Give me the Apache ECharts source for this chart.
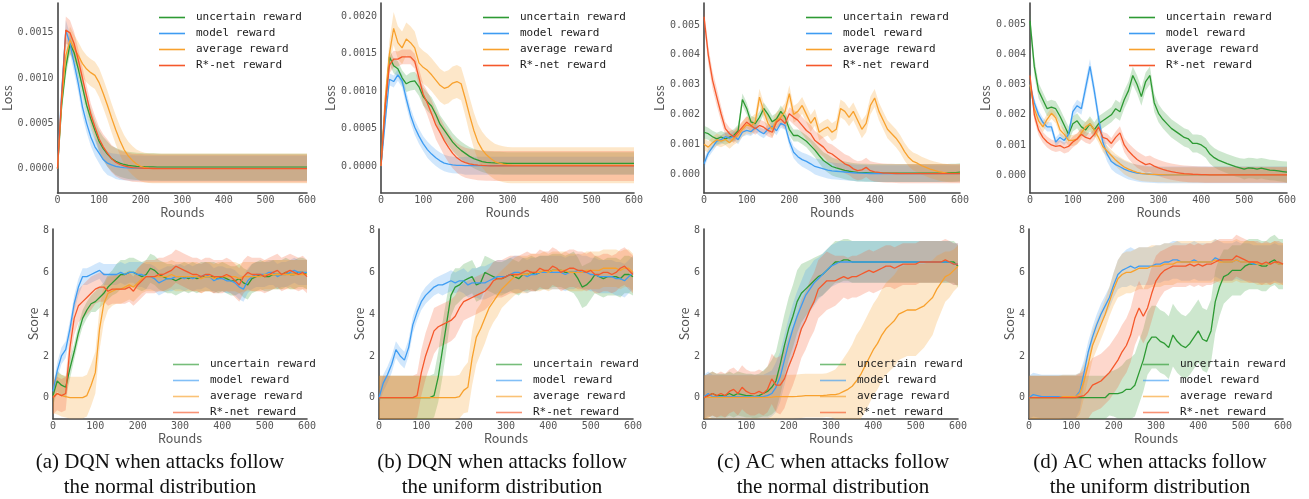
<!DOCTYPE html>
<html>
<head>
<meta charset="utf-8">
<title>Loss and score curves</title>
<script src="https://cdn.jsdelivr.net/npm/echarts@6/dist/echarts.min.js"></script>
<style>
  html, body { margin: 0; padding: 0; background: #fff; }
  #chart { width: 1309px; height: 499px; }
</style>
</head>
<body>
<div id="chart"></div>
<script>
// x positions of every sample (training rounds)
const rounds = [
  0, 10, 20, 30, 40, 50, 60, 70, 80, 90,
  100, 110, 120, 130, 140, 150, 160, 170, 180, 190,
  200, 210, 220, 230, 240, 250, 260, 270, 280, 290,
  300, 310, 320, 330, 340, 350, 360, 370, 380, 390,
  400, 410, 420, 430, 440, 450, 460, 470, 480, 490,
  500, 510, 520, 530, 540, 550, 560, 570, 580, 590,
  600
]
const seriesNames = ['uncertain reward', 'model reward', 'average reward', 'R*-net reward']
const captions = [
  '(a) DQN when attacks follow\nthe normal distribution',
  '(b) DQN when attacks follow\nthe uniform distribution',
  '(c) AC when attacks follow\nthe normal distribution',
  '(d) AC when attacks follow\nthe uniform distribution',
]
const roundTicks = [0, 100, 200, 300, 400, 500, 600]
const lossTicksA = [0, 0.0005, 0.001, 0.0015]
const lossTicksB = [0, 0.0005, 0.001, 0.0015, 0.002]
const lossTicksC = [0, 0.001, 0.002, 0.003, 0.004, 0.005]
const scoreTicks = [0, 2, 4, 6, 8]

// loss values are written in units of 1e-4
const LOSS_UNIT = 1e-4

// ---- (a) DQN, normal: loss ----
const lossA_unc = [
  0, 7, 11.2, 13.8, 12.8, 11, 9, 7, 5.5, 4.2,
  3, 2.2, 1.6, 1.1, 0.8, 0.6, 0.45, 0.35, 0.3, 0.25,
  0.22, 0.2, 0.19, 0.18, 0.17, 0.15, 0.15, 0.15, 0.15, 0.15,
  0.15, 0.15, 0.15, 0.15, 0.15, 0.15, 0.15, 0.15, 0.15, 0.15,
  0.15, 0.15, 0.15, 0.15, 0.15, 0.15, 0.15, 0.15, 0.15, 0.15,
  0.15, 0.15, 0.15, 0.15, 0.15, 0.15, 0.15, 0.15, 0.15, 0.15,
  0.15]
const lossA_unc_sd = [
  0.3, 0.8, 1.0, 1.1, 1.1, 1.1, 1.1, 1.1, 1.1, 1.1,
  1.2, 1.3, 1.4, 1.4, 1.5, 1.5, 1.5, 1.5, 1.5, 1.5,
  1.5, 1.5, 1.5, 1.5, 1.5, 1.5, 1.5, 1.5, 1.5, 1.5,
  1.5, 1.5, 1.5, 1.5, 1.5, 1.5, 1.5, 1.5, 1.5, 1.5,
  1.5, 1.5, 1.5, 1.5, 1.5, 1.5, 1.5, 1.5, 1.5, 1.5,
  1.5, 1.5, 1.5, 1.5, 1.5, 1.5, 1.5, 1.5, 1.5, 1.5,
  1.5]
const lossA_mod = [
  0, 8.5, 15.3, 13.8, 11.6, 9.4, 6.8, 5.0, 3.5, 2.4,
  1.7, 1.0, 0.6, 0.4, 0.25, 0.15, 0.1, 0.08, 0.06, 0.05,
  0.04, 0.03, 0.02, 0.02, 0.02, 0.02, 0.02, 0.02, 0.02, 0.02,
  0.02, 0.02, 0.02, 0.02, 0.02, 0.02, 0.02, 0.02, 0.02, 0.02,
  0.02, 0.02, 0.02, 0.02, 0.02, 0.02, 0.02, 0.02, 0.02, 0.02,
  0.02, 0.02, 0.02, 0.02, 0.02, 0.02, 0.02, 0.02, 0.02, 0.02,
  0.02]
const lossA_mod_sd = [
  0.3, 0.8, 1.1, 1.1, 1.0, 1.0, 1.0, 1.0, 1.0, 1.0,
  1.1, 1.2, 1.3, 1.3, 1.4, 1.4, 1.4, 1.4, 1.4, 1.4,
  1.4, 1.4, 1.4, 1.4, 1.4, 1.4, 1.4, 1.4, 1.4, 1.4,
  1.4, 1.4, 1.4, 1.4, 1.4, 1.4, 1.4, 1.4, 1.4, 1.4,
  1.4, 1.4, 1.4, 1.4, 1.4, 1.4, 1.4, 1.4, 1.4, 1.4,
  1.4, 1.4, 1.4, 1.4, 1.4, 1.4, 1.4, 1.4, 1.4, 1.4,
  1.4]
const lossA_avg = [
  0, 7.5, 12.5, 14.2, 13.3, 12.5, 11.6, 11, 10.6, 10.3,
  9.5, 8.3, 7, 5.6, 4.3, 3.1, 2.1, 1.4, 0.9, 0.5,
  0.25, 0.1, 0.05, 0.03, 0.02, 0.02, 0.02, 0.02, 0.02, 0.02,
  0.02, 0.02, 0.02, 0.02, 0.02, 0.02, 0.02, 0.02, 0.02, 0.02,
  0.02, 0.02, 0.02, 0.02, 0.02, 0.02, 0.02, 0.02, 0.02, 0.02,
  0.02, 0.02, 0.02, 0.02, 0.02, 0.02, 0.02, 0.02, 0.02, 0.02,
  0.02]
const lossA_avg_sd = [
  0.3, 1.0, 1.3, 1.5, 1.5, 1.5, 1.5, 1.5, 1.5, 1.5,
  1.6, 1.6, 1.6, 1.6, 1.6, 1.6, 1.6, 1.6, 1.6, 1.6,
  1.65, 1.65, 1.65, 1.65, 1.65, 1.65, 1.65, 1.65, 1.65, 1.65,
  1.65, 1.65, 1.65, 1.65, 1.65, 1.65, 1.65, 1.65, 1.65, 1.65,
  1.65, 1.65, 1.65, 1.65, 1.65, 1.65, 1.65, 1.65, 1.65, 1.65,
  1.65, 1.65, 1.65, 1.65, 1.65, 1.65, 1.65, 1.65, 1.65, 1.65,
  1.65]
const lossA_rnet = [
  0, 8, 15.3, 15.0, 13.8, 12, 10, 8, 6, 4.6,
  3.3, 2.4, 1.7, 1.1, 0.7, 0.45, 0.3, 0.2, 0.1, 0.07,
  0.05, 0.03, 0.02, 0.01, 0, 0, 0, 0, 0, 0,
  0, 0, 0, 0, 0, 0, 0, 0, 0, 0,
  0, 0, 0, 0, 0, 0, 0, 0, 0, 0,
  0, 0, 0, 0, 0, 0, 0, 0, 0, 0,
  0]
const lossA_rnet_sd = [
  0.3, 1.0, 1.5, 1.4, 1.3, 1.2, 1.2, 1.2, 1.2, 1.2,
  1.3, 1.4, 1.5, 1.5, 1.55, 1.55, 1.55, 1.55, 1.55, 1.55,
  1.55, 1.55, 1.55, 1.55, 1.55, 1.55, 1.55, 1.55, 1.55, 1.55,
  1.55, 1.55, 1.55, 1.55, 1.55, 1.55, 1.55, 1.55, 1.55, 1.55,
  1.55, 1.55, 1.55, 1.55, 1.55, 1.55, 1.55, 1.55, 1.55, 1.55,
  1.55, 1.55, 1.55, 1.55, 1.55, 1.55, 1.55, 1.55, 1.55, 1.55,
  1.55]

// ---- (b) DQN, uniform: loss ----
const lossB_unc = [
  0, 8, 14.6, 13.4, 13, 11.8, 11, 11.3, 11.4, 10.6,
  9.3, 8.6, 8, 6.9, 5.6, 4.8, 4, 3.2, 2.6, 2.1,
  1.7, 1.3, 1.0, 0.8, 0.6, 0.5, 0.45, 0.42, 0.4, 0.38,
  0.36, 0.36, 0.36, 0.36, 0.36, 0.36, 0.36, 0.36, 0.36, 0.36,
  0.36, 0.36, 0.36, 0.36, 0.36, 0.36, 0.36, 0.36, 0.36, 0.36,
  0.36, 0.36, 0.36, 0.36, 0.36, 0.36, 0.36, 0.36, 0.36, 0.36,
  0.36]
const lossB_unc_sd = [
  0.3, 0.8, 1.0, 1.0, 1.0, 1.0, 1.1, 1.2, 1.2, 1.2,
  1.2, 1.2, 1.2, 1.2, 1.2, 1.2, 1.2, 1.2, 1.2, 1.2,
  1.2, 1.25, 1.3, 1.35, 1.4, 1.45, 1.5, 1.5, 1.5, 1.5,
  1.5, 1.5, 1.5, 1.5, 1.5, 1.5, 1.5, 1.5, 1.5, 1.5,
  1.5, 1.5, 1.5, 1.5, 1.5, 1.5, 1.5, 1.5, 1.5, 1.5,
  1.5, 1.5, 1.5, 1.5, 1.5, 1.5, 1.5, 1.5, 1.5, 1.5,
  1.5]
const lossB_mod = [
  0, 6, 11.6, 11.3, 12.2, 11.4, 9.0, 6.8, 5.2, 4.0,
  3.0, 2.2, 1.6, 1.1, 0.7, 0.4, 0.25, 0.15, 0.1, 0.08,
  0.05, 0.05, 0.05, 0.05, 0.05, 0.05, 0.05, 0.05, 0.05, 0.05,
  0.05, 0.05, 0.05, 0.05, 0.05, 0.05, 0.05, 0.05, 0.05, 0.05,
  0.05, 0.05, 0.05, 0.05, 0.05, 0.05, 0.05, 0.05, 0.05, 0.05,
  0.05, 0.05, 0.05, 0.05, 0.05, 0.05, 0.05, 0.05, 0.05, 0.05,
  0.05]
const lossB_mod_sd = [
  0.3, 0.8, 0.8, 0.8, 0.8, 0.9, 1.0, 1.0, 1.0, 1.0,
  1.0, 1.1, 1.1, 1.1, 1.1, 1.1, 1.1, 1.1, 1.1, 1.1,
  1.2, 1.2, 1.2, 1.2, 1.2, 1.2, 1.2, 1.2, 1.2, 1.2,
  1.2, 1.2, 1.2, 1.2, 1.2, 1.2, 1.2, 1.2, 1.2, 1.2,
  1.2, 1.2, 1.2, 1.2, 1.2, 1.2, 1.2, 1.2, 1.2, 1.2,
  1.2, 1.2, 1.2, 1.2, 1.2, 1.2, 1.2, 1.2, 1.2, 1.2,
  1.2]
const lossB_avg = [
  0, 9, 15, 18.4, 16.5, 15.8, 17, 16.5, 15.8, 13.8,
  13.2, 12.8, 12.2, 11.5, 10.8, 10.4, 10.6, 11.1, 11.3, 11.0,
  9.0, 6.8, 4.8, 3.2, 2.2, 1.5, 1.0, 0.6, 0.4, 0.25,
  0.15, 0.12, 0.1, 0.1, 0.1, 0.1, 0.1, 0.1, 0.1, 0.1,
  0.1, 0.1, 0.1, 0.1, 0.1, 0.1, 0.1, 0.1, 0.1, 0.1,
  0.1, 0.1, 0.1, 0.1, 0.1, 0.1, 0.1, 0.1, 0.1, 0.1,
  0.1]
const lossB_avg_sd = [
  0.3, 1.2, 1.8, 2.2, 2.2, 2.2, 2.2, 2.2, 2.2, 2.2,
  2.2, 2.2, 2.2, 2.2, 2.2, 2.2, 2.2, 2.2, 2.2, 2.2,
  2.3, 2.4, 2.4, 2.4, 2.4, 2.4, 2.4, 2.4, 2.4, 2.4,
  2.4, 2.4, 2.4, 2.4, 2.4, 2.4, 2.4, 2.4, 2.4, 2.4,
  2.4, 2.4, 2.4, 2.4, 2.4, 2.4, 2.4, 2.4, 2.4, 2.4,
  2.4, 2.4, 2.4, 2.4, 2.4, 2.4, 2.4, 2.4, 2.4, 2.4,
  2.4]
const lossB_rnet = [
  0, 8, 13.5, 14.3, 14.3, 14.6, 14.6, 14.6, 14.0, 11.8,
  9.6, 8.4, 7.0, 5.5, 4.5, 3.4, 2.5, 1.7, 1.1, 0.7,
  0.45, 0.3, 0.2, 0.12, 0.08, 0.05, 0.03, 0.02, 0.02, 0.02,
  0.02, 0.02, 0.02, 0.02, 0.02, 0.02, 0.02, 0.02, 0.02, 0.02,
  0.02, 0.02, 0.02, 0.02, 0.02, 0.02, 0.02, 0.02, 0.02, 0.02,
  0.02, 0.02, 0.02, 0.02, 0.02, 0.02, 0.02, 0.02, 0.02, 0.02,
  0.02]
const lossB_rnet_sd = [
  0.3, 1.0, 1.1, 1.1, 1.0, 1.0, 1.0, 1.0, 1.0, 1.2,
  1.4, 1.6, 1.8, 1.9, 2.0, 2.0, 2.0, 2.0, 2.0, 2.0,
  2.0, 2.0, 2.0, 2.0, 2.0, 2.0, 2.0, 2.0, 2.0, 2.0,
  2.0, 2.0, 2.0, 2.0, 2.0, 2.0, 2.0, 2.0, 2.0, 2.0,
  2.0, 2.0, 2.0, 2.0, 2.0, 2.0, 2.0, 2.0, 2.0, 2.0,
  2.0, 2.0, 2.0, 2.0, 2.0, 2.0, 2.0, 2.0, 2.0, 2.0,
  2.0]

// ---- (c) AC, normal: loss ----
const lossC_unc = [
  14, 13.5, 12.5, 11.8, 12.4, 11.8, 12.4, 13, 14.5, 25,
  22, 17.5, 16.9, 19, 22, 20, 17.5, 18.5, 21, 19,
  15, 12.9, 12.9, 12, 11, 9.5, 8, 6.2, 4.5, 3.5,
  2.5, 2.0, 1.6, 1.2, 0.9, 0.7, 0.5, 0.45, 0.4, 0.35,
  0.3, 0.3, 0.3, 0.3, 0.3, 0.3, 0.3, 0.3, 0.3, 0.3,
  0.3, 0.3, 0.3, 0.3, 0.3, 0.3, 0.35, 0.35, 0.4, 0.45,
  0.6]
const lossC_unc_sd = [
  2.2, 2.0, 2.0, 2.0, 2.0, 2.0, 2.0, 2.0, 2.0, 2.0,
  2.0, 2.0, 2.0, 2.0, 2.0, 2.0, 2.0, 2.0, 2.0, 2.0,
  2.0, 2.0, 2.0, 2.0, 2.0, 2.2, 2.4, 2.6, 2.8, 3.0,
  3.0, 3.0, 3.0, 3.0, 3.0, 3.0, 3.0, 3.0, 3.0, 3.0,
  3.0, 3.0, 3.0, 3.0, 3.0, 3.0, 3.0, 3.0, 3.0, 3.0,
  3.0, 3.0, 3.0, 3.0, 3.0, 3.0, 3.0, 3.0, 3.0, 3.0,
  3.0]
const lossC_mod = [
  3.4, 7, 9, 11, 11.5, 12.5, 12, 12.8, 11.5, 14,
  14.6, 14.2, 15.5, 14.3, 13.5, 15, 16, 14.5, 17, 16.3,
  11, 7.3, 5.8, 4.8, 4.2, 3.4, 2.5, 2.1, 1.7, 1.3,
  1.0, 0.9, 0.8, 0.65, 0.5, 0.4, 0.3, 0.25, 0.2, 0.15,
  0.1, 0.1, 0.1, 0.1, 0.1, 0.1, 0.1, 0.1, 0.1, 0.1,
  0.1, 0.1, 0.1, 0.1, 0.1, 0.1, 0.1, 0.1, 0.1, 0.1,
  0.1]
const lossC_mod_sd = [
  1.5, 1.5, 1.5, 1.5, 1.5, 1.5, 1.5, 1.5, 1.5, 1.5,
  1.5, 1.5, 1.5, 1.5, 1.5, 1.5, 1.5, 1.5, 1.5, 1.5,
  1.8, 2.0, 2.2, 2.4, 2.5, 2.6, 2.7, 2.8, 2.8, 2.8,
  2.8, 2.8, 2.8, 2.8, 2.8, 2.8, 2.8, 2.8, 2.8, 2.8,
  2.8, 2.8, 2.8, 2.8, 2.8, 2.8, 2.8, 2.8, 2.8, 2.8,
  2.8, 2.8, 2.8, 2.8, 2.8, 2.8, 2.8, 2.8, 2.8, 2.8,
  2.8]
const lossC_avg = [
  10, 9, 10.5, 11.5, 11, 11.6, 10.5, 12, 13, 15,
  16.5, 16, 17.5, 25.8, 21, 17, 15, 18, 19, 21,
  27, 20, 21, 23, 20, 17, 19, 14, 15, 15.7,
  14, 15, 22, 21, 19, 21, 18, 15, 17, 23,
  25.5, 21, 18, 15, 13.5, 12, 10, 7.5, 5.5, 4.2,
  3.6, 2.8, 2.2, 1.6, 1.2, 0.8, 0.5, 0.3, 0.2, 0.2,
  0.2]
const lossC_avg_sd = [
  2.0, 2.0, 2.0, 2.0, 2.0, 2.0, 2.0, 2.2, 2.4, 2.5,
  2.8, 2.8, 2.8, 2.8, 2.8, 2.8, 2.8, 2.8, 2.8, 2.8,
  2.8, 2.8, 2.8, 2.8, 2.8, 2.8, 2.8, 2.8, 2.8, 2.8,
  3.0, 3.0, 3.0, 3.0, 3.0, 3.0, 3.0, 3.0, 3.0, 3.0,
  3.0, 3.0, 3.0, 3.0, 3.0, 3.0, 3.0, 3.0, 3.0, 3.0,
  3.0, 3.0, 3.0, 3.0, 3.0, 3.0, 3.0, 3.0, 3.0, 3.0,
  3.0]
const lossC_rnet = [
  52.8, 40, 31.5, 25.8, 20.2, 15.2, 13.5, 12.4, 14, 15.7,
  17.4, 16.3, 15.2, 16.3, 15.7, 14.6, 14, 17.4, 18.5, 16.9,
  20.2, 19, 18, 16.3, 14.6, 13.5, 11.2, 10.1, 9, 7.3,
  6.7, 5.6, 4.5, 3.4, 2.8, 1.7, 1.1, 1.35, 2.2, 1.1,
  0.7, 0.5, 0.3, 0.25, 0.2, 0.15, 0.1, 0.1, 0.1, 0.1,
  0.1, 0.1, 0.1, 0.1, 0.1, 0.1, 0.1, 0.1, 0.1, 0.1,
  0.1]
const lossC_rnet_sd = [
  2.5, 3, 3, 3, 2.5, 2.2, 2, 2, 2, 2,
  2, 2, 2, 2, 2, 2, 2, 2, 2, 2,
  2.2, 2.4, 2.6, 2.8, 3.0, 3.0, 3.2, 3.2, 3.2, 3.2,
  3.2, 3.2, 3.2, 3.2, 3.2, 3.2, 3.2, 3.2, 3.2, 3.2,
  3.2, 3.2, 3.2, 3.2, 3.2, 3.2, 3.2, 3.2, 3.2, 3.2,
  3.2, 3.2, 3.2, 3.2, 3.2, 3.2, 3.2, 3.2, 3.2, 3.2,
  3.2]

// ---- (d) AC, uniform: loss ----
const lossD_unc = [
  51, 36, 28, 25, 22, 22.5, 22, 19.5, 16.5, 13.5,
  17, 18, 16, 15, 17, 15, 17, 18, 19, 20,
  22, 21, 25, 28, 33, 30, 26, 31, 33, 24,
  20.5, 18.5, 17, 15.5, 14.5, 13.5, 12.5, 12, 10.5, 10.5,
  10, 9, 7, 5.8, 5.0, 4.4, 3.8, 3.3, 2.8, 2.4,
  2.0, 2.4, 2.3, 2.0, 2.3, 2.0, 1.7, 1.6, 1.4, 1.2,
  1.0]
const lossD_unc_sd = [
  3, 3, 2.5, 2.5, 2.5, 2.5, 2.5, 2.5, 2.5, 2.5,
  2.5, 2.5, 2.5, 2.5, 2.5, 2.5, 2.5, 2.5, 2.5, 2.5,
  3, 3, 3, 3, 3, 3, 3, 3, 3, 3,
  3, 3, 3, 3, 3, 3, 3, 3, 3, 3,
  3.2, 3.2, 3.2, 3.2, 3.2, 3.2, 3.2, 3.2, 3.2, 3.2,
  3.4, 3.4, 3.4, 3.4, 3.4, 3.4, 3.4, 3.4, 3.4, 3.4,
  3.5]
const lossD_mod = [
  30, 24, 20, 17.5, 16, 16, 11, 12.5, 11.5, 13.5,
  21, 23, 22, 29, 36, 28, 19, 11, 7, 4.5,
  3.5, 2.8, 2.0, 1.4, 1.0, 0.7, 0.5, 0.4, 0.3, 0.2,
  0.1, 0.1, 0.1, 0.1, 0.1, 0.1, 0.1, 0.1, 0.1, 0.1,
  0.1, 0.1, 0.1, 0.1, 0.1, 0.1, 0.1, 0.1, 0.1, 0.1,
  0.1, 0.1, 0.1, 0.1, 0.1, 0.1, 0.1, 0.1, 0.1, 0.1,
  0.1]
const lossD_mod_sd = [
  1.5, 1.5, 1.5, 1.5, 1.5, 1.5, 1.5, 1.5, 1.5, 1.5,
  1.8, 2, 2, 2.5, 2.5, 2.5, 2.5, 2.5, 2.5, 2.5,
  2.8, 2.8, 2.8, 2.8, 2.8, 2.8, 2.8, 2.8, 2.8, 2.8,
  2.8, 2.8, 2.8, 2.8, 2.8, 2.8, 2.8, 2.8, 2.8, 2.8,
  2.8, 2.8, 2.8, 2.8, 2.8, 2.8, 2.8, 2.8, 2.8, 2.8,
  2.8, 2.8, 2.8, 2.8, 2.8, 2.8, 2.8, 2.8, 2.8, 2.8,
  2.8]
const lossD_avg = [
  30, 22, 18, 16, 18.5, 20.5, 19, 15, 13.5, 11.5,
  11.5, 12, 14, 16, 17, 15, 12.5, 9.5, 8, 6.5,
  5.0, 3.8, 2.7, 2.0, 1.4, 0.9, 0.6, 0.4, 0.3, 0.25,
  0.2, 0.15, 0.1, 0.1, 0.1, 0.1, 0.1, 0.1, 0.1, 0.1,
  0.1, 0.1, 0.1, 0.1, 0.1, 0.1, 0.1, 0.1, 0.1, 0.1,
  0.1, 0.1, 0.1, 0.1, 0.1, 0.1, 0.1, 0.1, 0.1, 0.1,
  0.1]
const lossD_avg_sd = [
  1.5, 1.8, 1.8, 1.8, 1.8, 1.8, 1.8, 1.8, 1.8, 1.8,
  1.8, 1.8, 1.8, 1.8, 1.8, 1.8, 1.8, 1.8, 1.8, 1.8,
  2.0, 2.2, 2.4, 2.5, 2.5, 2.5, 2.5, 2.5, 2.5, 2.5,
  2.5, 2.5, 2.5, 2.5, 2.5, 2.5, 2.5, 2.5, 2.5, 2.5,
  2.5, 2.5, 2.5, 2.5, 2.5, 2.5, 2.5, 2.5, 2.5, 2.5,
  2.5, 2.5, 2.5, 2.5, 2.5, 2.5, 2.5, 2.5, 2.5, 2.5,
  2.5]
const lossD_rnet = [
  33, 20, 15, 12.5, 11, 10, 9.5, 9.8, 9, 9.5,
  11, 12, 13.5, 12.5, 12, 13.5, 16, 12.5, 12, 10.5,
  12.5, 14, 10, 8, 6.5, 5.2, 4.3, 3.5, 3.8, 3.0,
  2.4, 1.9, 1.5, 1.2, 0.9, 0.7, 0.5, 0.4, 0.3, 0.25,
  0.2, 0.15, 0.1, 0.1, 0.1, 0.1, 0.1, 0.1, 0.1, 0.1,
  0.1, 0.1, 0.1, 0.1, 0.1, 0.1, 0.1, 0.1, 0.1, 0.1,
  0.1]
const lossD_rnet_sd = [
  1.5, 1.8, 1.8, 1.8, 1.8, 1.8, 1.8, 1.8, 1.8, 1.8,
  1.8, 1.8, 1.8, 1.8, 1.8, 1.8, 1.8, 1.8, 1.8, 1.8,
  2.0, 2.2, 2.4, 2.6, 2.7, 2.7, 2.7, 2.7, 2.7, 2.7,
  2.7, 2.7, 2.7, 2.7, 2.7, 2.7, 2.7, 2.7, 2.7, 2.7,
  2.7, 2.7, 2.7, 2.7, 2.7, 2.7, 2.7, 2.7, 2.7, 2.7,
  2.7, 2.7, 2.7, 2.7, 2.7, 2.7, 2.7, 2.7, 2.7, 2.7,
  2.7]

// ---- (a) DQN, normal: score ----
const scoreA_unc = [
  0.1, 0.8, 0.6, 0.5, 1.4, 2.2, 3.1, 3.8, 4.2, 4.5,
  4.6, 4.8, 5.0, 5.3, 5.5, 5.7, 5.9, 5.9, 6.0, 6.0,
  5.9, 5.8, 5.9, 6.2, 6.1, 5.9, 5.8, 5.7, 5.7, 5.6,
  5.7, 5.8, 5.7, 5.8, 5.7, 5.8, 5.8, 5.8, 5.8, 5.7,
  5.8, 5.7, 5.6, 5.6, 5.7, 5.5, 5.4, 5.7, 5.8, 5.9,
  5.8, 5.8, 5.9, 5.9, 5.9, 6.0, 5.9, 5.9, 6.0, 6.0,
  5.9]
const scoreA_unc_sd = [
  0.5, 0.5, 0.5, 0.5, 0.5, 0.4, 0.4, 0.4, 0.4, 0.4,
  0.5, 0.5, 0.5, 0.6, 0.6, 0.7, 0.7, 0.7, 0.7, 0.7,
  0.7, 0.7, 0.7, 0.7, 0.7, 0.7, 0.7, 0.7, 0.7, 0.7,
  0.7, 0.7, 0.7, 0.7, 0.7, 0.7, 0.7, 0.7, 0.7, 0.7,
  0.7, 0.7, 0.7, 0.7, 0.7, 0.7, 0.7, 0.7, 0.7, 0.7,
  0.7, 0.7, 0.7, 0.7, 0.7, 0.7, 0.7, 0.7, 0.7, 0.7,
  0.7]
const scoreA_mod = [
  0.3, 1.3, 2.0, 2.3, 3.3, 4.5, 5.3, 5.8, 5.8, 5.9,
  6.0, 6.1, 5.9, 5.9, 5.9, 5.9, 6.0, 5.9, 6.0, 6.0,
  5.9, 5.9, 5.8, 5.8, 5.7, 5.5, 5.6, 5.7, 5.7, 5.8,
  5.8, 5.7, 5.8, 5.7, 5.8, 5.8, 5.9, 5.8, 5.6, 5.7,
  5.7, 5.6, 5.6, 5.5, 5.3, 5.2, 5.6, 5.8, 5.9, 5.9,
  5.9, 6.0, 6.0, 5.8, 5.9, 5.9, 6.0, 6.1, 6.0, 6.0,
  6.0]
const scoreA_mod_sd = [
  0.3, 0.4, 0.4, 0.4, 0.4, 0.4, 0.4, 0.4, 0.4, 0.4,
  0.4, 0.4, 0.5, 0.5, 0.5, 0.5, 0.5, 0.5, 0.5, 0.5,
  0.6, 0.6, 0.6, 0.6, 0.6, 0.6, 0.6, 0.6, 0.6, 0.6,
  0.6, 0.6, 0.6, 0.6, 0.6, 0.6, 0.6, 0.6, 0.6, 0.6,
  0.6, 0.6, 0.6, 0.6, 0.6, 0.6, 0.6, 0.6, 0.6, 0.6,
  0.6, 0.6, 0.6, 0.6, 0.6, 0.6, 0.6, 0.6, 0.6, 0.6,
  0.6]
const scoreA_avg = [
  0.05, 0.2, 0.1, 0.05, 0, 0, 0, 0, 0.1, 0.6,
  1.2, 3.3, 4.5, 5.0, 5.1, 5.2, 5.2, 5.3, 5.4, 5.3,
  5.5, 5.7, 5.8, 5.8, 5.8, 5.8, 5.8, 5.8, 5.9, 5.8,
  5.8, 5.8, 5.8, 5.8, 5.8, 5.7, 5.8, 5.8, 5.7, 5.8,
  5.8, 5.8, 5.8, 5.8, 5.7, 5.8, 5.8, 5.8, 5.8, 5.8,
  5.9, 5.9, 5.9, 5.9, 5.9, 5.9, 5.9, 5.9, 5.9, 5.9,
  5.9]
const scoreA_avg_sd = [
  0.8, 1.0, 1.0, 1.0, 1.0, 1.0, 1.0, 1.0, 1.0, 1.0,
  1.0, 1.0, 0.9, 0.8, 0.7, 0.7, 0.7, 0.7, 0.7, 0.7,
  0.7, 0.7, 0.7, 0.7, 0.7, 0.7, 0.7, 0.7, 0.7, 0.7,
  0.7, 0.7, 0.7, 0.7, 0.7, 0.7, 0.7, 0.7, 0.7, 0.7,
  0.7, 0.7, 0.7, 0.7, 0.7, 0.7, 0.7, 0.7, 0.7, 0.7,
  0.7, 0.7, 0.7, 0.7, 0.7, 0.7, 0.7, 0.7, 0.7, 0.7,
  0.7]
const scoreA_rnet = [
  0, 0.2, 0.1, 0.2, 2.4, 3.8, 4.4, 4.6, 4.8, 5.0,
  5.2, 5.3, 5.3, 5.1, 5.2, 5.2, 5.2, 5.2, 5.3, 5.1,
  5.4, 5.6, 5.8, 5.8, 5.8, 5.9, 5.9, 6.0, 6.1, 6.3,
  6.2, 6.1, 6.0, 5.9, 5.9, 5.8, 5.9, 5.9, 5.8, 5.8,
  5.8, 5.9, 5.8, 5.6, 5.4, 5.8, 6.0, 5.9, 5.9, 5.9,
  5.8, 5.9, 6.0, 6.1, 5.9, 6.0, 6.1, 6.0, 5.9, 6.0,
  5.8]
const scoreA_rnet_sd = [
  0.8, 0.8, 0.8, 0.8, 0.8, 0.8, 0.8, 0.8, 0.8, 0.8,
  0.7, 0.7, 0.7, 0.7, 0.7, 0.7, 0.7, 0.7, 0.7, 0.7,
  0.8, 0.8, 0.8, 0.8, 0.8, 0.8, 0.8, 0.8, 0.8, 0.8,
  0.8, 0.8, 0.8, 0.8, 0.8, 0.8, 0.8, 0.8, 0.8, 0.8,
  0.8, 0.8, 0.8, 0.8, 0.8, 0.8, 0.8, 0.8, 0.8, 0.8,
  0.8, 0.8, 0.8, 0.8, 0.8, 0.8, 0.8, 0.8, 0.8, 0.8,
  0.8]

// ---- (b) DQN, uniform: score ----
const scoreB_unc = [
  0, 0, 0, 0, 0, 0, 0, 0, 0, 0,
  0, 0, 0, 0.1, 1.0, 2.3, 3.6, 4.9, 5.3, 5.4,
  5.6, 5.7, 5.8, 5.4, 5.5, 6.0, 5.9, 5.8, 5.7, 5.7,
  5.8, 5.9, 5.8, 5.7, 5.9, 5.9, 6.0, 5.9, 6.0, 6.0,
  6.0, 6.1, 6.1, 6.1, 6.0, 6.0, 6.0, 5.7, 5.3, 5.4,
  5.6, 5.9, 5.8, 5.7, 5.8, 5.8, 5.8, 5.7, 5.9, 5.9,
  5.8]
const scoreB_unc_sd = [
  1.05, 1.05, 1.05, 1.05, 1.05, 1.05, 1.05, 1.05, 1.05, 1.05,
  1.05, 1.05, 1.05, 1.05, 1.2, 1.3, 1.2, 1.0, 0.9, 0.8,
  0.8, 0.8, 0.8, 0.8, 0.8, 0.8, 0.8, 0.8, 0.8, 0.8,
  0.8, 0.8, 0.8, 0.8, 0.8, 0.8, 0.8, 0.8, 0.8, 0.8,
  0.8, 0.8, 0.8, 0.8, 0.8, 0.9, 1.0, 1.0, 1.0, 1.0,
  0.9, 0.9, 0.9, 0.9, 0.9, 0.9, 0.9, 0.9, 0.9, 0.9,
  0.9]
const scoreB_mod = [
  0, 0.7, 1.1, 1.6, 2.3, 2.0, 1.8, 2.4, 3.5, 4.1,
  4.6, 4.9, 5.1, 5.3, 5.4, 5.4, 5.5, 5.6, 5.5, 5.6,
  5.6, 5.4, 5.5, 5.5, 5.5, 5.5, 5.6, 5.7, 5.8, 5.8,
  5.8, 5.9, 6.0, 6.0, 5.9, 5.8, 5.9, 5.9, 6.0, 6.0,
  6.0, 6.0, 6.0, 6.0, 5.9, 6.0, 6.0, 6.1, 6.0, 6.0,
  5.9, 5.9, 5.8, 5.8, 5.8, 5.8, 5.7, 5.7, 5.6, 5.8,
  6.0]
const scoreB_mod_sd = [
  0.3, 0.4, 0.4, 0.4, 0.4, 0.4, 0.4, 0.4, 0.4, 0.4,
  0.4, 0.4, 0.4, 0.4, 0.4, 0.5, 0.5, 0.5, 0.5, 0.5,
  0.6, 0.6, 0.7, 0.7, 0.8, 0.8, 0.8, 0.8, 0.8, 0.8,
  0.8, 0.8, 0.8, 0.8, 0.8, 0.8, 0.8, 0.8, 0.8, 0.8,
  0.8, 0.8, 0.8, 0.8, 0.8, 0.8, 0.8, 0.8, 0.8, 0.8,
  0.8, 0.8, 0.8, 0.8, 0.8, 0.8, 0.8, 0.8, 0.8, 0.8,
  0.8]
const scoreB_avg = [
  0, 0, 0, 0, 0, 0, 0, 0, 0, 0,
  0, 0, 0, 0, 0, 0, 0, 0, 0, 0.05,
  0.35, 0.5, 1.9, 2.9, 3.3, 3.8, 4.3, 4.6, 4.9, 5.2,
  5.4, 5.6, 5.8, 5.9, 5.9, 5.9, 6.0, 6.0, 6.0, 6.1,
  6.0, 6.1, 6.1, 6.1, 6.1, 6.0, 6.0, 6.0, 6.0, 6.1,
  6.1, 6.1, 6.1, 6.2, 6.2, 6.2, 6.2, 6.1, 6.2, 6.2,
  6.0]
const scoreB_avg_sd = [
  1.05, 1.05, 1.05, 1.05, 1.05, 1.05, 1.05, 1.05, 1.05, 1.05,
  1.05, 1.05, 1.05, 1.05, 1.05, 1.05, 1.05, 1.05, 1.05, 1.05,
  1.1, 1.2, 1.3, 1.3, 1.2, 1.2, 1.1, 1.0, 1.0, 0.9,
  0.9, 0.9, 0.9, 0.9, 0.9, 0.9, 0.9, 0.9, 0.9, 0.9,
  0.9, 0.9, 0.9, 0.9, 0.9, 0.9, 0.9, 0.9, 0.9, 0.9,
  0.9, 0.9, 0.9, 0.9, 0.9, 0.9, 0.9, 0.9, 0.9, 0.9,
  0.9]
const scoreB_rnet = [
  0, 0, 0, 0, 0, 0, 0, 0, 0, 0.1,
  1.2, 2.0, 2.6, 3.2, 3.4, 3.5, 3.6, 3.7, 3.9, 4.3,
  4.6, 4.7, 4.8, 4.9, 5.0, 5.1, 5.3, 5.6, 5.7, 5.7,
  5.8, 5.9, 5.9, 5.9, 6.0, 6.1, 6.0, 6.0, 6.2, 6.1,
  6.1, 6.3, 6.2, 6.0, 6.1, 6.2, 6.2, 6.1, 6.1, 6.0,
  6.1, 5.9, 5.9, 6.0, 6.0, 5.9, 6.0, 6.2, 6.3, 6.1,
  5.9]
const scoreB_rnet_sd = [
  1.05, 1.05, 1.05, 1.05, 1.05, 1.05, 1.05, 1.05, 1.05, 1.05,
  1.1, 1.1, 1.1, 1.1, 1.0, 1.0, 1.0, 1.0, 1.0, 1.0,
  0.9, 0.9, 0.9, 0.9, 0.9, 0.9, 0.9, 0.9, 0.9, 0.9,
  0.9, 0.9, 0.9, 0.9, 0.9, 0.9, 0.9, 0.9, 0.9, 0.9,
  0.9, 0.9, 0.9, 0.9, 0.9, 0.9, 0.9, 0.9, 0.9, 0.9,
  0.9, 0.9, 0.9, 0.9, 0.9, 0.9, 0.9, 0.9, 0.9, 0.9,
  0.9]

// ---- (c) AC, normal: score ----
const scoreC_unc = [
  0, 0.1, 0.2, 0.1, 0.1, 0.1, 0.2, 0.1, 0.2, 0.15,
  0.1, 0.1, 0.05, 0.1, 0.2, 0.3, 0.5, 0.8, 1.6, 2.5,
  3.3, 3.9, 4.6, 5.0, 5.2, 5.4, 5.6, 5.8, 5.9, 6.1,
  6.3, 6.5, 6.5, 6.6, 6.6, 6.5, 6.5, 6.5, 6.5, 6.5,
  6.5, 6.5, 6.5, 6.5, 6.5, 6.5, 6.5, 6.5, 6.5, 6.5,
  6.5, 6.5, 6.5, 6.5, 6.5, 6.5, 6.5, 6.5, 6.5, 6.5,
  6.3]
const scoreC_unc_sd = [
  1.05, 1.05, 1.05, 1.05, 1.05, 1.05, 1.05, 1.05, 1.05, 1.05,
  1.05, 1.05, 1.05, 1.05, 1.1, 1.2, 1.3, 1.4, 1.5, 1.5,
  1.5, 1.5, 1.5, 1.4, 1.3, 1.2, 1.1, 1.0, 1.0, 1.0,
  1.0, 1.0, 1.0, 1.0, 1.0, 1.0, 1.0, 1.0, 1.0, 1.0,
  1.0, 1.0, 1.0, 1.0, 1.0, 1.0, 1.0, 1.0, 1.0, 1.0,
  1.0, 1.0, 1.0, 1.0, 1.0, 1.0, 1.0, 1.0, 1.0, 1.0,
  1.0]
const scoreC_mod = [
  0.05, 0.2, 0.05, 0.05, 0.05, 0.05, 0.05, 0.05, 0.05, 0.05,
  0.05, 0.05, 0.05, 0.05, 0.05, 0.1, 0.2, 0.5, 1.0, 1.8,
  2.6, 3.3, 3.9, 4.4, 4.9, 5.2, 5.5, 5.7, 5.9, 6.1,
  6.3, 6.4, 6.5, 6.5, 6.5, 6.5, 6.5, 6.5, 6.5, 6.5,
  6.5, 6.5, 6.5, 6.5, 6.5, 6.5, 6.5, 6.5, 6.5, 6.5,
  6.5, 6.5, 6.5, 6.5, 6.5, 6.5, 6.5, 6.5, 6.5, 6.4,
  6.4]
const scoreC_mod_sd = [
  1.05, 1.05, 1.05, 1.05, 1.05, 1.05, 1.05, 1.05, 1.05, 1.05,
  1.05, 1.05, 1.05, 1.05, 1.05, 1.1, 1.1, 1.2, 1.2, 1.2,
  1.2, 1.2, 1.2, 1.2, 1.2, 1.1, 1.1, 1.0, 1.0, 1.0,
  1.0, 1.0, 1.0, 1.0, 1.0, 1.0, 1.0, 1.0, 1.0, 1.0,
  1.0, 1.0, 1.0, 1.0, 1.0, 1.0, 1.0, 1.0, 1.0, 1.0,
  1.0, 1.0, 1.0, 1.0, 1.0, 1.0, 1.0, 1.0, 1.0, 1.0,
  1.0]
const scoreC_avg = [
  0.02, 0.02, 0.02, 0.02, 0.02, 0.02, 0.02, 0.02, 0.02, 0.02,
  0.02, 0.02, 0.02, 0.02, 0.02, 0.02, 0.03, 0.05, 0.05, 0.05,
  0.05, 0.05, 0.06, 0.08, 0.1, 0.1, 0.1, 0.1, 0.1, 0.12,
  0.15, 0.15, 0.2, 0.3, 0.4, 0.55, 0.8, 1.1, 1.5, 1.9,
  2.3, 2.6, 3.0, 3.3, 3.5, 3.7, 4.0, 4.1, 4.2, 4.2,
  4.2, 4.3, 4.4, 4.6, 4.8, 5.2, 5.5, 5.8, 5.9, 6.1,
  6.3]
const scoreC_avg_sd = [
  1.05, 1.05, 1.05, 1.05, 1.05, 1.05, 1.05, 1.05, 1.05, 1.05,
  1.05, 1.05, 1.05, 1.05, 1.05, 1.05, 1.05, 1.05, 1.05, 1.05,
  1.05, 1.05, 1.05, 1.05, 1.05, 1.05, 1.05, 1.05, 1.05, 1.05,
  1.1, 1.2, 1.4, 1.6, 1.8, 2.0, 2.2, 2.2, 2.2, 2.2,
  2.2, 2.2, 2.2, 2.2, 2.2, 2.2, 2.2, 2.2, 2.2, 2.2,
  2.2, 2.1, 2.0, 1.9, 1.8, 1.6, 1.4, 1.2, 1.1, 1.0,
  1.0]
const scoreC_rnet = [
  0, 0.1, 0.2, 0.1, 0.2, 0.1, 0.3, 0.4, 0.2, 0.5,
  0.3, 0.2, 0.2, 0.3, 0.2, 0.4, 0.9, 0.6, 0.6, 0.9,
  1.5, 2.0, 2.6, 3.3, 3.7, 4.2, 4.6, 5.2, 5.4, 5.6,
  5.6, 5.6, 5.7, 5.8, 5.7, 5.8, 5.8, 5.9, 6.0, 6.1,
  6.0, 6.1, 6.2, 6.3, 6.3, 6.2, 6.3, 6.4, 6.4, 6.4,
  6.4, 6.5, 6.5, 6.5, 6.5, 6.5, 6.5, 6.6, 6.5, 6.4,
  6.4]
const scoreC_rnet_sd = [
  1.05, 1.05, 1.05, 1.05, 1.05, 1.05, 1.05, 1.05, 1.05, 1.05,
  1.05, 1.05, 1.05, 1.05, 1.05, 1.1, 1.2, 1.3, 1.4, 1.4,
  1.4, 1.4, 1.4, 1.4, 1.4, 1.4, 1.4, 1.4, 1.4, 1.4,
  1.3, 1.2, 1.1, 1.0, 1.0, 1.0, 1.0, 1.0, 1.0, 1.0,
  1.0, 1.0, 1.0, 1.0, 1.0, 1.0, 1.0, 1.0, 1.0, 1.0,
  1.0, 1.0, 1.0, 1.0, 1.0, 1.0, 1.0, 1.0, 1.0, 1.0,
  1.0]

// ---- (d) AC, uniform: score ----
const scoreD_unc = [
  0, 0, 0, 0, 0, 0, 0, 0, 0, 0,
  0, 0, 0, 0, 0, 0, 0, 0, 0, 0.2,
  0.2, 0.2, 0.25, 0.4, 0.4, 0.6, 1.2, 1.8, 2.6, 2.9,
  2.9, 2.7, 2.6, 2.4, 3.0, 2.7, 2.5, 2.4, 2.6, 2.9,
  3.2, 2.8, 2.7, 3.2, 4.6, 5.3, 5.8, 5.9, 6.1, 6.1,
  6.1, 6.3, 6.4, 6.4, 6.4, 6.3, 6.3, 6.5, 6.6, 6.4,
  6.4]
const scoreD_unc_sd = [
  1.05, 1.05, 1.05, 1.05, 1.05, 1.05, 1.05, 1.05, 1.05, 1.05,
  1.05, 1.05, 1.05, 1.05, 1.05, 1.05, 1.05, 1.05, 1.05, 1.05,
  1.1, 1.2, 1.3, 1.4, 1.5, 1.5, 1.5, 1.5, 1.5, 1.5,
  1.5, 1.5, 1.5, 1.5, 1.5, 1.5, 1.5, 1.5, 1.5, 1.5,
  1.5, 1.5, 1.5, 1.5, 1.5, 1.4, 1.3, 1.2, 1.2, 1.2,
  1.2, 1.2, 1.2, 1.2, 1.2, 1.2, 1.2, 1.2, 1.2, 1.2,
  1.2]
const scoreD_mod = [
  0, 0.15, 0.1, 0.05, 0.05, 0.05, 0.05, 0.05, 0.05, 0.05,
  0.05, 0.05, 0.3, 1.2, 2.2, 2.9, 3.5, 4.0, 4.4, 4.8,
  5.4, 5.9, 6.1, 6.2, 6.3, 6.2, 6.3, 6.3, 6.3, 6.3,
  6.4, 6.4, 6.5, 6.5, 6.6, 6.6, 6.5, 6.5, 6.5, 6.6,
  6.5, 6.5, 6.5, 6.5, 6.7, 6.6, 6.5, 6.5, 6.5, 6.6,
  6.5, 6.5, 6.5, 6.4, 6.4, 6.4, 6.4, 6.4, 6.5, 6.4,
  6.4]
const scoreD_mod_sd = [
  1.05, 1.05, 1.05, 1.05, 1.05, 1.05, 1.05, 1.05, 1.05, 1.05,
  1.05, 1.05, 0.9, 0.6, 0.5, 0.5, 0.5, 0.5, 0.5, 0.5,
  0.6, 0.7, 0.8, 0.9, 0.9, 0.9, 0.9, 0.9, 0.9, 0.9,
  0.9, 0.9, 0.9, 0.9, 0.9, 0.9, 0.9, 0.9, 0.9, 0.9,
  0.9, 0.9, 0.9, 0.9, 0.9, 0.9, 0.9, 0.9, 0.9, 0.9,
  0.9, 0.9, 0.9, 0.9, 0.9, 0.9, 0.9, 0.9, 0.9, 0.9,
  0.9]
const scoreD_avg = [
  0, 0, 0, 0, 0, 0, 0, 0, 0.05, 0.05,
  0.05, 0.05, 0.2, 0.8, 1.6, 2.5, 3.0, 3.5, 4.0, 4.6,
  5.2, 5.7, 5.9, 6.0, 6.0, 6.1, 6.2, 6.2, 6.2, 6.3,
  6.3, 6.3, 6.4, 6.4, 6.4, 6.5, 6.5, 6.5, 6.5, 6.5,
  6.5, 6.5, 6.5, 6.5, 6.6, 6.5, 6.5, 6.5, 6.5, 6.6,
  6.5, 6.5, 6.5, 6.5, 6.4, 6.4, 6.4, 6.4, 6.5, 6.4,
  6.4]
const scoreD_avg_sd = [
  1.05, 1.05, 1.05, 1.05, 1.05, 1.05, 1.05, 1.05, 1.05, 1.05,
  1.05, 1.05, 1.0, 0.8, 0.7, 0.7, 0.7, 0.7, 0.7, 0.7,
  0.8, 0.9, 1.0, 1.0, 1.0, 1.0, 1.0, 1.0, 1.0, 1.0,
  1.0, 1.0, 1.0, 1.0, 1.0, 1.0, 1.0, 1.0, 1.0, 1.0,
  1.0, 1.0, 1.0, 1.0, 1.0, 1.0, 1.0, 1.0, 1.0, 1.0,
  1.0, 1.0, 1.0, 1.0, 1.0, 1.0, 1.0, 1.0, 1.0, 1.0,
  1.0]
const scoreD_rnet = [
  0, 0, 0, 0, 0, 0, 0, 0, 0, 0,
  0, 0, 0.05, 0.1, 0.3, 0.6, 0.7, 0.8, 1.0, 1.2,
  1.5, 1.8, 2.2, 2.5, 3.0, 3.8, 4.3, 3.9, 4.3, 5.0,
  5.6, 5.9, 6.1, 6.2, 6.3, 6.3, 6.3, 6.3, 6.4, 6.3,
  6.4, 6.3, 6.4, 6.4, 6.5, 6.6, 6.6, 6.6, 6.6, 6.8,
  6.7, 6.6, 6.5, 6.5, 6.5, 6.4, 6.5, 6.4, 6.5, 6.5,
  6.4]
const scoreD_rnet_sd = [
  1.05, 1.05, 1.05, 1.05, 1.05, 1.05, 1.05, 1.05, 1.05, 1.05,
  1.05, 1.05, 1.1, 1.2, 1.3, 1.3, 1.3, 1.3, 1.3, 1.3,
  1.3, 1.3, 1.3, 1.3, 1.3, 1.3, 1.3, 1.3, 1.3, 1.3,
  1.2, 1.1, 1.0, 1.0, 1.0, 1.0, 1.0, 1.0, 1.0, 1.0,
  1.0, 1.0, 1.0, 1.0, 1.0, 1.0, 1.0, 1.0, 1.0, 1.0,
  1.0, 1.0, 1.0, 1.0, 1.0, 1.0, 1.0, 1.0, 1.0, 1.0,
  1.0]

const lineColors = ['#2d9a33', '#3e9cf2', '#f8a12d', '#f5582b']
const bandColors = [
  'rgba(45,154,51,0.24)',
  'rgba(62,156,242,0.24)',
  'rgba(248,161,45,0.26)',
  'rgba(245,88,43,0.24)',
]

// one entry per subplot, top row first
const panels = [
  { means: [lossA_unc, lossA_mod, lossA_avg, lossA_rnet], sds: [lossA_unc_sd, lossA_mod_sd, lossA_avg_sd, lossA_rnet_sd], unit: LOSS_UNIT },
  { means: [lossB_unc, lossB_mod, lossB_avg, lossB_rnet], sds: [lossB_unc_sd, lossB_mod_sd, lossB_avg_sd, lossB_rnet_sd], unit: LOSS_UNIT },
  { means: [lossC_unc, lossC_mod, lossC_avg, lossC_rnet], sds: [lossC_unc_sd, lossC_mod_sd, lossC_avg_sd, lossC_rnet_sd], unit: LOSS_UNIT },
  { means: [lossD_unc, lossD_mod, lossD_avg, lossD_rnet], sds: [lossD_unc_sd, lossD_mod_sd, lossD_avg_sd, lossD_rnet_sd], unit: LOSS_UNIT },
  { means: [scoreA_unc, scoreA_mod, scoreA_avg, scoreA_rnet], sds: [scoreA_unc_sd, scoreA_mod_sd, scoreA_avg_sd, scoreA_rnet_sd], unit: 1 },
  { means: [scoreB_unc, scoreB_mod, scoreB_avg, scoreB_rnet], sds: [scoreB_unc_sd, scoreB_mod_sd, scoreB_avg_sd, scoreB_rnet_sd], unit: 1 },
  { means: [scoreC_unc, scoreC_mod, scoreC_avg, scoreC_rnet], sds: [scoreC_unc_sd, scoreC_mod_sd, scoreC_avg_sd, scoreC_rnet_sd], unit: 1 },
  { means: [scoreD_unc, scoreD_mod, scoreD_avg, scoreD_rnet], sds: [scoreD_unc_sd, scoreD_mod_sd, scoreD_avg_sd, scoreD_rnet_sd], unit: 1 },
]

// subplot geometry and axes
const layouts = [
  { left: 53, top: 3, width: 254, min: -0.00027, max: 0.00183, ticks: lossTicksA, dec: 4, name: 'Loss', gap: 36, legendLeft: 159, legendTop: 12, legendAlpha: 1 },
  { left: 381, top: 3, width: 253, min: -0.00036, max: 0.00218, ticks: lossTicksB, dec: 4, name: 'Loss', gap: 37, legendLeft: 483, legendTop: 12, legendAlpha: 1 },
  { left: 704, top: 3, width: 256, min: -0.00064, max: 0.00574, ticks: lossTicksC, dec: 3, name: 'Loss', gap: 33, legendLeft: 806, legendTop: 12, legendAlpha: 1 },
  { left: 1030, top: 3, width: 257, min: -0.00059, max: 0.0057, ticks: lossTicksC, dec: 3, name: 'Loss', gap: 31, legendLeft: 1129, legendTop: 12, legendAlpha: 1 },
  { left: 53, top: 229, width: 254, min: -1.02, max: 8.08, ticks: scoreTicks, dec: 0, name: 'Score', gap: 10, legendLeft: 173, legendTop: 359, legendAlpha: 0.65 },
  { left: 379, top: 229, width: 254, min: -1.02, max: 8.08, ticks: scoreTicks, dec: 0, name: 'Score', gap: 11, legendLeft: 496, legendTop: 359, legendAlpha: 0.65 },
  { left: 704, top: 229, width: 254, min: -1.02, max: 8.08, ticks: scoreTicks, dec: 0, name: 'Score', gap: 11, legendLeft: 820, legendTop: 359, legendAlpha: 0.65 },
  { left: 1029, top: 229, width: 254, min: -1.02, max: 8.08, ticks: scoreTicks, dec: 0, name: 'Score', gap: 11, legendLeft: 1143, legendTop: 359, legendAlpha: 0.65 },
]
const captionX = [160, 502, 833, 1150]

const axisColor = '#444'
const labelStyle = { color: '#555', fontFamily: 'DejaVu Sans Mono', fontSize: 10 }
const nameStyle = { color: '#555', fontFamily: 'Noto Sans CJK SC', fontSize: 12.5 }

// shaded band: polygon along mean+sd then back along mean-sd
function bandSeries(gi, mean, sd, unit, color, lo, hi) {
  const clamp = v => Math.max(lo, Math.min(hi, v))
  return {
    type: 'custom',
    xAxisIndex: gi,
    yAxisIndex: gi,
    silent: true,
    clip: true,
    z: 1,
    data: [[0, 0]],
    renderItem: function (params, api) {
      const n = Math.min(rounds.length, mean.length, sd.length)
      const pts = []
      for (let i = 0; i < n; i++) pts.push(api.coord([rounds[i], clamp((mean[i] + sd[i]) * unit)]))
      for (let i = n - 1; i >= 0; i--) pts.push(api.coord([rounds[i], clamp((mean[i] - sd[i]) * unit)]))
      return { type: 'polygon', shape: { points: pts }, style: { fill: color } }
    },
  }
}

const option = {
  animation: false,
  backgroundColor: '#fff',
  grid: [],
  xAxis: [],
  yAxis: [],
  legend: [],
  series: [],
  graphic: [],
}

panels.forEach(function (p, gi) {
  const L = layouts[gi]
  option.grid.push({ left: L.left, top: L.top, width: L.width, height: 190 })
  option.xAxis.push({
    gridIndex: gi,
    type: 'value',
    min: 0,
    max: 600,
    interval: 100,
    name: 'Rounds',
    nameLocation: 'middle',
    nameGap: 12,
    nameTextStyle: nameStyle,
    axisLine: { show: true, onZero: false, lineStyle: { color: axisColor, width: 1.6 } },
    axisTick: { show: false },
    splitLine: { show: false },
    axisLabel: { ...labelStyle, margin: 2, customValues: roundTicks },
  })
  option.yAxis.push({
    gridIndex: gi,
    type: 'value',
    min: L.min,
    max: L.max,
    name: L.name,
    nameLocation: 'middle',
    nameRotate: 90,
    nameGap: L.gap,
    nameTextStyle: nameStyle,
    axisLine: { show: true, onZero: false, lineStyle: { color: axisColor, width: 1.6 } },
    axisTick: { show: false },
    splitLine: { show: false },
    axisLabel: {
      ...labelStyle,
      margin: 4,
      customValues: L.ticks,
      formatter: v => Number(v).toFixed(L.dec),
    },
  })
  option.legend.push({
    data: seriesNames,
    orient: 'vertical',
    left: L.legendLeft,
    top: L.legendTop,
    padding: 0,
    icon: 'rect',
    itemWidth: 26,
    itemHeight: 1.6,
    itemGap: 5,
    itemStyle: { opacity: L.legendAlpha },
    selectedMode: false,
    textStyle: { color: '#1a1a1a', fontFamily: 'DejaVu Sans Mono', fontSize: 11, padding: [0, 0, 0, 6] },
  })
  p.means.forEach(function (m, si) {
    option.series.push(bandSeries(gi, m, p.sds[si], p.unit, bandColors[si], L.min, L.max))
  })
  p.means.forEach(function (m, si) {
    option.series.push({
      type: 'line',
      name: seriesNames[si],
      xAxisIndex: gi,
      yAxisIndex: gi,
      data: rounds.map((r, i) => [r, m[i] * p.unit]),
      symbol: 'none',
      z: 3,
      lineStyle: { width: 1.3, color: lineColors[si] },
      itemStyle: { color: lineColors[si] },
    })
  })
})

captions.forEach(function (c, i) {
  option.graphic.push({
    type: 'text',
    x: captionX[i],
    y: 475,
    silent: true,
    style: {
      text: c,
      fill: '#111',
      font: '21px "Liberation Serif"',
      align: 'center',
      verticalAlign: 'middle',
      lineHeight: 25,
    },
  })
})

const chart = echarts.init(document.getElementById('chart'))
chart.setOption(option)
</script>
</body>
</html>
